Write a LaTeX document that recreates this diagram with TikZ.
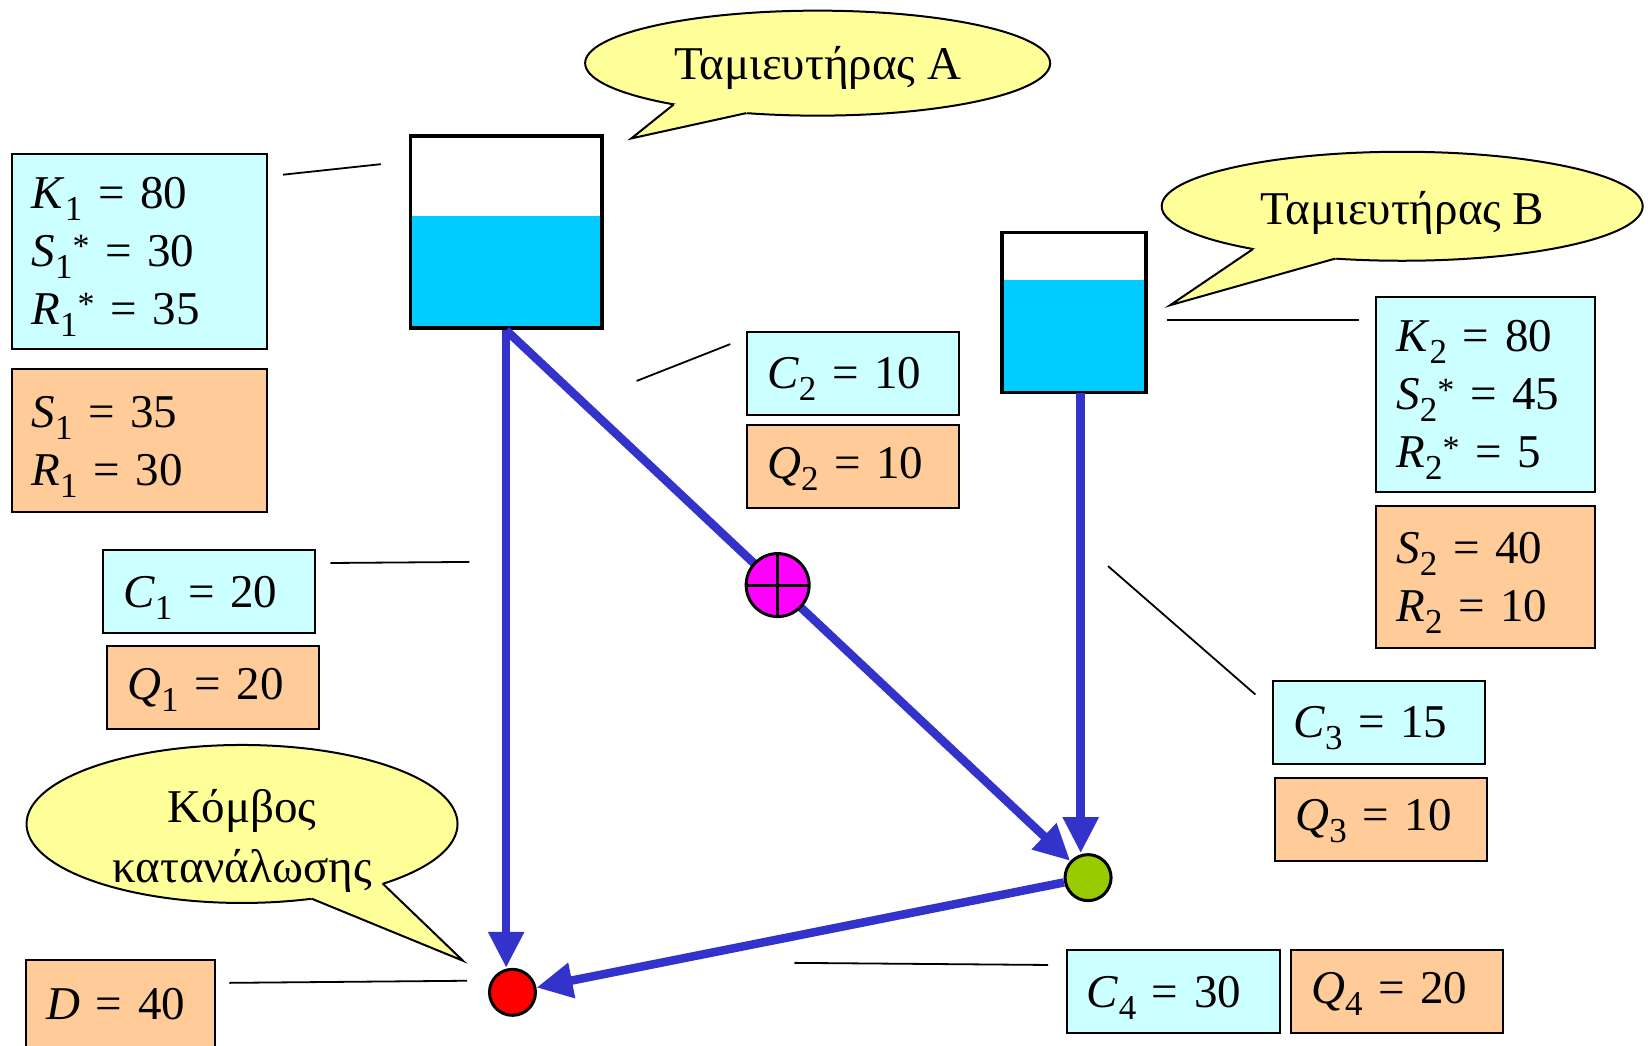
\documentclass[tikz,border=0pt]{standalone}
\usepackage{fontspec}
\setmainfont{Liberation Serif}
\newfontfamily\boxfont{Liberation Serif}[WordSpace=0.75]
\usetikzlibrary{arrows.meta,shapes.geometric}
\definecolor{cyanbox}{HTML}{CCFFFF}
\definecolor{orangebox}{HTML}{FFCC99}
\definecolor{callfill}{HTML}{FFFF99}
\definecolor{water}{HTML}{00CCFF}
\definecolor{pipec}{HTML}{3333CC}
\definecolor{pumpc}{HTML}{FF00FF}
\definecolor{greenc}{HTML}{99CC00}
\definecolor{redc}{HTML}{FF0000}
\newcommand\bigf{\fontsize{47}{58}\selectfont}
\newcommand\boxf{\boxfont\fontsize{47}{58}\selectfont}
\newcommand\lsub[1]{\smash{\raisebox{-0.255em}{\fontsize{35}{35}\selectfont #1}}}
\newcommand\lsup[1]{\smash{\raisebox{0.19em}{\fontsize{34}{34}\selectfont #1}}}
\begin{document}
\begin{tikzpicture}[x=1.0523pt,y=-1.0523pt,
 box/.style={draw, line width=2pt, anchor=north west, inner xsep=20pt, inner ysep=0pt, align=left, font=\boxf},
 cbox/.style={box, fill=cyanbox},
 obox/.style={box, fill=orangebox},
 tank/.style={draw, line width=3.8pt, rectangle, inner sep=0pt},
 callout/.style={ellipse, draw, line width=2pt, fill=callfill, inner sep=0pt, outer sep=0pt},
 calltext/.style={font=\bigf, align=center, inner sep=0pt},
 pointer/.style={draw, line width=2pt, line join=miter},
 pipe/.style={draw=pipec, line width=8.5pt, -{Triangle[width=34pt,length=36pt]}},
 lead/.style={draw, line width=1.8pt},
 junction/.style={circle, draw, line width=3pt, inner sep=0pt, minimum size=46pt}
]
\useasboundingbox (0,0) rectangle (1568,994);

% ---------- callouts ----------
\node[callout, minimum width=465pt, minimum height=105pt] (cA) at (777,60) {};
\coordinate (tipA) at (600,131.5);
\fill[callfill] (cA.196) -- (tipA) -- (cA.215) -- (cA.center) -- cycle;
\draw[pointer] (cA.196) -- (tipA) -- (cA.215);
\node[calltext] (cAt) at (777,65) {Ταμιευτήρας Α};

\node[callout, minimum width=481pt, minimum height=109pt] (cB) at (1332.5,196) {};
\coordinate (tipB) at (1112,290);
\fill[callfill] (cB.196) -- (tipB) -- (cB.218) -- (cB.center) -- cycle;
\draw[pointer] (cB.196) -- (tipB) -- (cB.218);
\node[calltext] (cBt) at (1332.5,202) {Ταμιευτήρας Β};

\node[callout, minimum width=431pt, minimum height=158pt] (cN) at (230,783) {};
\coordinate (tipN) at (440,913);
\fill[callfill] (cN.313) -- (tipN) -- (cN.337) -- (cN.center) -- cycle;
\draw[pointer] (cN.313) -- (tipN) -- (cN.337);
\node[calltext, font={\fontsize{47}{60}\selectfont}] (cNt) at (230,799) {Κόμβος\\κατανάλωσης};

% ---------- tanks ----------
\fill[water] (390,205) rectangle (572,312);
\node[tank, minimum width=191.5pt, minimum height=192.6pt] (tankA) at (481,220.5) {};
\fill[water] (952,266) rectangle (1089,373);
\node[tank, minimum width=144.2pt, minimum height=160pt] (tankB) at (1020.5,297) {};

% ---------- junctions ----------
\node[junction, fill=redc] (red) at (487,943) {};
\node[junction, fill=greenc] (green) at (1034,834) {};

% ---------- pipes ----------
\coordinate (pB) at (1027,373);
\draw[pipe] (tankA.south) -- (tankA.south |- red.north);
\draw[pipe] (tankA.south) -- (green);
\draw[pipe] (pB) -- (pB |- green.north);
\draw[pipe] (green) -- (red);

% ---------- pump ----------
\node[circle, draw, line width=3pt, fill=pumpc, minimum size=63pt, inner sep=0pt, outer sep=0pt] (pump) at (739,556) {};
\draw[line width=3pt] (pump.north) -- (pump.south) (pump.west) -- (pump.east);

% ---------- data boxes ----------
\node[cbox, text width=215.7pt, minimum height=195.7pt] (k1) at (10,145)
 {\textit{K}\lsub{1} = 80\\\textit{S}\lsub{1}\lsup{*} = 30\\\textit{R}\lsub{1}\lsup{*} = 35};
\node[obox, text width=215.7pt, minimum height=143.1pt] (s1) at (10,350)
 {\textit{S}\lsub{1} = 35\\\textit{R}\lsub{1} = 30};
\node[cbox, text width=171.5pt, minimum height=82.1pt] (c2) at (709,315) {\textit{C}\lsub{2} = 10};
\node[obox, text width=171.5pt, minimum height=83.1pt] (q2) at (709,403) {\textit{Q}\lsub{2} = 10};
\node[cbox, text width=178.9pt, minimum height=195.7pt] (k2) at (1307,281)
 {\textit{K}\lsub{2} = 80\\\textit{S}\lsub{2}\lsup{*} = 45\\\textit{R}\lsub{2}\lsup{*} = 5};
\node[obox, text width=178.9pt, minimum height=142.1pt] (s2) at (1307,480)
 {\textit{S}\lsub{2} = 40\\\textit{R}\lsub{2} = 10};
\node[cbox, text width=171.5pt, minimum height=83.1pt] (c3) at (1209,646) {\textit{C}\lsub{3} = 15};
\node[obox, text width=171.5pt, minimum height=83.1pt] (q3) at (1211,738) {\textit{Q}\lsub{3} = 10};
\node[cbox, text width=171.5pt, minimum height=83.1pt] (c1) at (97,522) {\textit{C}\lsub{1} = 20};
\node[obox, text width=171.5pt, minimum height=83.1pt] (q1) at (101,613) {\textit{Q}\lsub{1} = 20};
\node[obox, text width=148.4pt, text height=60pt, text depth=60pt] (d) at (24,911) {\textit{D} = 40};
\node[cbox, text width=172.6pt, minimum height=83.1pt] (c4) at (1013,902) {\textit{C}\lsub{4} = 30};
\node[obox, text width=171.5pt, minimum height=83.1pt] (q4) at (1226,902) {\textit{Q}\lsub{4} = 20};

% ---------- leader lines ----------
\coordinate (l1a) at (269,166); \coordinate (l1b) at (362,156);
\coordinate (l2a) at (605,362); \coordinate (l2b) at (694,327);
\coordinate (l3a) at (1109,304); \coordinate (l3b) at (1291,304);
\coordinate (l4a) at (1053,538); \coordinate (l4b) at (1193,660);
\coordinate (l5a) at (314,535); \coordinate (l5b) at (446,534);
\coordinate (l6a) at (218,934); \coordinate (l6b) at (444,932);
\coordinate (l7a) at (755,915); \coordinate (l7b) at (996,917);
\draw[lead] (l1a) -- (l1b);
\draw[lead] (l2a) -- (l2b);
\draw[lead] (l3a) -- (l3b);
\draw[lead] (l4a) -- (l4b);
\draw[lead] (l5a) -- (l5b);
\draw[lead] (l6a) -- (l6b);
\draw[lead] (l7a) -- (l7b);
\end{tikzpicture}
\end{document}
